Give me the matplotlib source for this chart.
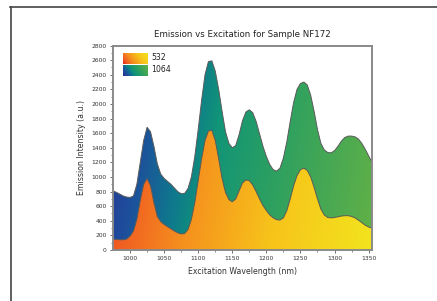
import matplotlib
matplotlib.use("Agg")
import matplotlib.pyplot as plt
from matplotlib.colors import LinearSegmentedColormap
from matplotlib.lines import Line2D
import numpy as np

# wavelengths (nm), every 5 nm, and emission intensity for both excitation lasers
wavelength = list(range(975, 1356, 5))
em_1064 = [810, 790, 765, 740, 725, 720, 740, 900, 1200, 1500,
           1680, 1620, 1420, 1180, 1040, 980, 940, 900, 850, 800,
           770, 775, 840, 1000, 1280, 1650, 2050, 2400, 2580, 2590,
           2450, 2200, 1900, 1620, 1460, 1400, 1430, 1580, 1770, 1890,
           1920, 1880, 1760, 1590, 1420, 1280, 1170, 1100, 1080, 1120,
           1260, 1480, 1760, 2020, 2200, 2280, 2300, 2260, 2120, 1900,
           1650, 1460, 1370, 1335, 1330, 1360, 1420, 1490, 1540, 1560,
           1560, 1550, 1520, 1460, 1380, 1290, 1200]
em_532 = [150, 145, 140, 140, 150, 190, 260, 420, 680, 900,
          980, 880, 650, 460, 390, 350, 320, 290, 260, 235,
          220, 225, 280, 420, 650, 950, 1250, 1500, 1630, 1640,
          1500, 1250, 980, 790, 690, 660, 700, 810, 920, 960,
          950, 890, 800, 700, 610, 540, 480, 440, 415, 410,
          440, 540, 700, 880, 1020, 1100, 1120, 1090, 1000, 860,
          700, 560, 480, 445, 440, 445, 455, 465, 470, 470,
          460, 440, 410, 375, 340, 315, 300]
series_names = ["532", "1064"]

cmap_532 = LinearSegmentedColormap.from_list("c532", [
    (0.0, "#e8221c"), (0.12, "#f05a22"), (0.35, "#f5901e"),
    (0.65, "#f7c41a"), (1.0, "#f2e41e")])
cmap_1064 = LinearSegmentedColormap.from_list("c1064", [
    (0.0, "#2a2f95"), (0.15, "#1d4f9c"), (0.3, "#0e7a8c"),
    (0.4, "#119478"), (0.6, "#2a9f62"), (1.0, "#62b146")])

fig = plt.figure(figsize=(4.37, 3.01), dpi=100)
ax = fig.add_axes([0.2586, 0.1694, 0.5927, 0.6794])

xlim = (975, 1355)
ylim = (0, 2800)
gx, gy = np.meshgrid(np.linspace(0, 1, 300), np.linspace(0, 1, 200))
grad = 0.88 * gx + 0.12 * (1 - gy)

for vals, cmap in [(em_1064, cmap_1064), (em_532, cmap_532)]:
    poly = ax.fill_between(wavelength, 0, vals, facecolor="none", edgecolor="none")
    im = ax.imshow(grad, cmap=cmap, extent=[xlim[0], xlim[1], ylim[0], ylim[1]],
                   origin="lower", aspect="auto", vmin=0, vmax=1, zorder=1)
    im.set_clip_path(poly.get_paths()[0], transform=ax.transData)
    ax.plot(wavelength, vals, color="#5a5a5a", lw=0.7, zorder=2)

ax.set_xlim(*xlim)
ax.set_ylim(*ylim)
ax.set_xticks(np.arange(1000, 1351, 50))
ax.set_xticks(np.arange(1000, 1351, 25), minor=True)
ax.set_yticks(np.arange(0, 2801, 200))
ax.set_yticks(np.arange(0, 2801, 100), minor=True)
ax.tick_params(which="major", length=2.5, width=0.6, labelsize=4.3,
               colors="#555555", labelcolor="#333333", pad=2)
ax.tick_params(which="minor", length=1.3, width=0.5, colors="#555555")
for sp in ax.spines.values():
    sp.set_color("#8a8a8a")
    sp.set_linewidth(1.4)

ax.set_title("Emission vs Excitation for Sample NF172", fontsize=6.2,
             color="#222222", pad=6, fontweight="medium")
ax.set_xlabel("Excitation Wavelength (nm)", fontsize=5.6, color="#333333", labelpad=4)
ax.set_ylabel("Emission Intensity (a.u.)", fontsize=5.6, color="#333333", labelpad=4)

# legend with gradient swatches
for i, (name, cmap) in enumerate(zip(series_names, [cmap_532, cmap_1064])):
    lax = fig.add_axes([123 / 437, 1 - (52 + 12 * (i + 1)) / 301, 25 / 437, 11.5 / 301])
    lgx, lgy = np.meshgrid(np.linspace(0, 1, 50), np.linspace(0, 1, 20))
    lax.imshow(0.75 * lgx + 0.25 * lgy, cmap=cmap, aspect="auto", origin="lower",
               vmin=0, vmax=1)
    lax.set_axis_off()
    fig.text(151 / 437, 1 - (52 + 12 * i + 6) / 301, name, fontsize=5.6,
             color="#222222", va="center", ha="left")

# outer frame of the screenshot
fig.add_artist(Line2D([10 / 437, 1], [1 - 6.5 / 301] * 2, color="#444444", lw=1.2,
                      transform=fig.transFigure))
fig.add_artist(Line2D([10.5 / 437] * 2, [0, 1 - 6.5 / 301], color="#444444", lw=1.2,
                      transform=fig.transFigure))

fig.savefig("out.png", dpi=100)
